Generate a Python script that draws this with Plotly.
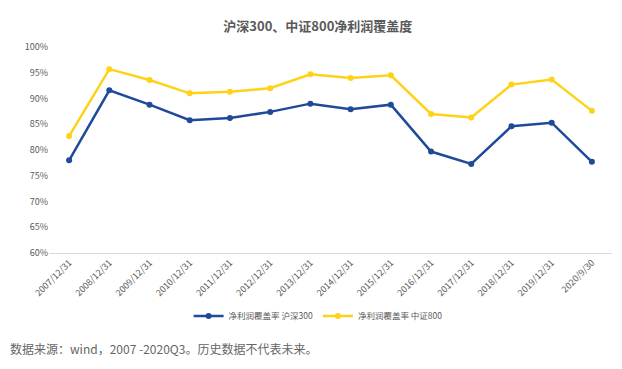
import plotly.graph_objects as go

categories = ["2007/12/31", "2008/12/31", "2009/12/31", "2010/12/31", "2011/12/31",
              "2012/12/31", "2013/12/31", "2014/12/31", "2015/12/31", "2016/12/31",
              "2017/12/31", "2018/12/31", "2019/12/31", "2020/9/30"]
hs300 = [0.780, 0.916, 0.888, 0.858, 0.862, 0.874, 0.890, 0.879, 0.888,
         0.797, 0.773, 0.846, 0.853, 0.777]
zz800 = [0.827, 0.957, 0.936, 0.910, 0.913, 0.920, 0.947, 0.940, 0.945,
         0.870, 0.863, 0.927, 0.937, 0.876]
series_names = ["净利润覆盖率 沪深300", "净利润覆盖率 中证800"]
title_text = "沪深300、中证800净利润覆盖度"
footer_text = "数据来源：wind，2007 -2020Q3。历史数据不代表未来。"

FONT = "Noto Sans CJK SC, Microsoft YaHei, sans-serif"

fig = go.Figure()
fig.add_trace(go.Scatter(x=categories, y=hs300, name=series_names[0], mode="lines+markers",
                         line=dict(color="#1F4A99", width=2.5),
                         marker=dict(color="#1F4A99", size=6)))
fig.add_trace(go.Scatter(x=categories, y=zz800, name=series_names[1], mode="lines+markers",
                         line=dict(color="#FFD21A", width=2.5),
                         marker=dict(color="#FFD21A", size=6)))

fig.update_layout(
    width=622, height=369,
    margin=dict(l=49, r=10, t=47, b=116),
    paper_bgcolor="white", plot_bgcolor="white",
    font=dict(family=FONT, color="#595959", size=9),
    title=dict(text="<b>" + title_text + "</b>", x=0.511, xanchor="center", y=0.927, yanchor="middle",
               font=dict(size=13, color="#595959", family=FONT)),
    showlegend=True,
    legend=dict(orientation="h", x=0.478, xanchor="center", y=-0.306, yanchor="middle",
                font=dict(size=8.5, color="#595959"), itemwidth=30, tracegroupgap=0,
                bgcolor="rgba(0,0,0,0)"),
    annotations=[dict(text=footer_text, xref="paper", yref="paper", x=-0.0728, y=-0.466,
                      xanchor="left", yanchor="middle", showarrow=False,
                      font=dict(size=12, color="#666666", family=FONT))],
)
fig.update_xaxes(type="category", showgrid=False, showline=True, linecolor="#D9D9D9",
                 linewidth=1, tickangle=-45, ticks="", tickfont=dict(size=9, color="#595959"),
                 range=[-0.5, len(categories) - 0.5])
fig.update_yaxes(range=[0.6, 1.0], dtick=0.05, tickformat=".0%", showgrid=False,
                 showline=False, zeroline=False, ticks="", tickfont=dict(size=9, color="#595959"))

fig.write_html("out.html", config={"displayModeBar": False},
               post_script="document.body.style.margin='0px';")
